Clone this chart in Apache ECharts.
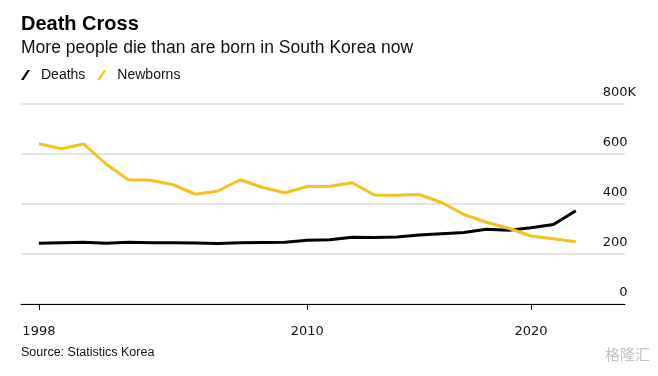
<!DOCTYPE html>
<html>
<head>
<meta charset="utf-8">
<script src="https://cdn.jsdelivr.net/npm/echarts@6/dist/echarts.min.js"></script>
<style>
  html, body { margin: 0; padding: 0; background: #fff; }
  #main { width: 658px; height: 376px; }
</style>
</head>
<body>
<div id="main"></div>
<script>
  // data, thousands
  var years = [1998, 1999, 2000, 2001, 2002, 2003, 2004, 2005, 2006, 2007, 2008, 2009, 2010,
    2011, 2012, 2013, 2014, 2015, 2016, 2017, 2018, 2019, 2020, 2021, 2022];
  var deaths = [243, 245, 247, 243, 247, 245, 245, 244, 242, 245, 246, 247, 255,
    257, 267, 266, 268, 276, 281, 286, 299, 295, 305, 318, 373];
  var newborns = [641, 621, 640, 560, 497, 495, 477, 439, 452, 497, 466, 445, 470,
    471, 485, 436, 435, 438, 406, 358, 327, 303, 272, 261, 249];
  var xTicks = [1998, 2010, 2020];
  var yTicks = [0, 200, 400, 600, 800];

  var myChart = echarts.init(document.getElementById("main"));

  function pairs(vals) {
    return years.map(function (y, i) { return [y, vals[i]]; });
  }

  var sansFont = "'Liberation Sans', Arial, sans-serif";
  var slash = "path://M0,10 L2.6,10 L9,0 L6.4,0 Z";

  var option = {
    animation: false,
    title: [
      {
        text: "Death Cross", left: 21, top: 14, padding: 0,
        textStyle: { fontFamily: sansFont, fontSize: 20, fontWeight: "bold", color: "#000" }
      },
      {
        text: "More people die than are born in South Korea now", left: 21, top: 39, padding: 0,
        textStyle: { fontFamily: sansFont, fontSize: 17.5, fontWeight: "normal", color: "#111" }
      },
      {
        text: "Source: Statistics Korea", left: 21, top: 346, padding: 0,
        textStyle: { fontFamily: sansFont, fontSize: 12.5, fontWeight: "normal", color: "#111" }
      }
    ],
    legend: {
      left: 21, top: 68, padding: 0,
      itemWidth: 9, itemHeight: 11, itemGap: 12,
      textStyle: { fontFamily: sansFont, fontSize: 14, color: "#111", padding: [0, 0, 0, 6] },
      data: [
        { name: "Deaths", icon: slash },
        { name: "Newborns", icon: slash }
      ]
    },
    grid: { left: 21, right: 33, top: 104, bottom: 72, containLabel: false },
    xAxis: {
      type: "value",
      min: 1997.2,
      max: 2024.2,
      splitLine: { show: false },
      axisLine: { lineStyle: { color: "#000", width: 1 } },
      axisTick: { customValues: xTicks, length: 6, lineStyle: { color: "#000" } },
      axisLabel: {
        customValues: xTicks, margin: 21,
        formatter: function (v) { return String(v); },
        fontFamily: "'DejaVu Sans', sans-serif", fontSize: 13, color: "#111"
      }
    },
    yAxis: {
      type: "value",
      position: "right",
      min: 0, max: 800, interval: 200,
      axisLine: { show: false },
      axisTick: { show: false },
      splitLine: { lineStyle: { color: "#e4e4e4", width: 2 } },
      axisLabel: {
        inside: true, margin: -11,
        verticalAlign: "bottom", padding: [0, 0, 5, 0],
        fontFamily: "'DejaVu Sans', sans-serif", fontSize: 13, color: "#111",
        formatter: function (v) { return v === 800 ? v + "K" : v + "{h|K}"; },
        rich: { h: { color: "rgba(0,0,0,0)", fontFamily: "'DejaVu Sans', sans-serif", fontSize: 13 } }
      }
    },
    graphic: [
      {
        type: "text", right: 8, top: 347,
        style: { text: "格隆汇", fill: "#c4c4c4", font: "15px 'Noto Sans CJK SC'" }
      }
    ],
    series: [
      {
        name: "Deaths", type: "line", data: pairs(deaths),
        showSymbol: false, color: "#000",
        lineStyle: { width: 3, color: "#000" }
      },
      {
        name: "Newborns", type: "line", data: pairs(newborns),
        showSymbol: false, color: "#f4c21f",
        lineStyle: { width: 3, color: "#f4c21f" }
      }
    ]
  };
  myChart.setOption(option);
</script>
</body>
</html>
